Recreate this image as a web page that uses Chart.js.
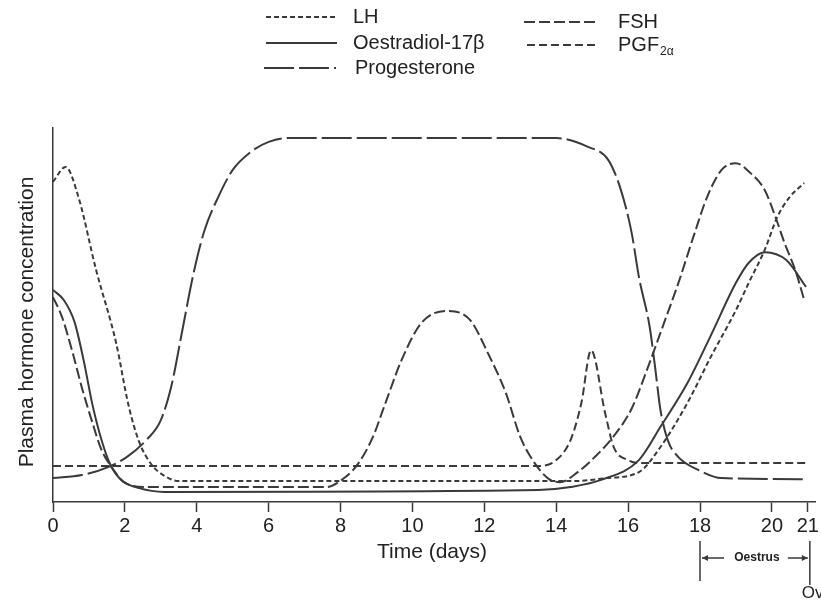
<!DOCTYPE html>
<html>
<head>
<meta charset="utf-8">
<title>Plasma hormone concentrations over the oestrous cycle</title>
<script src="https://cdn.jsdelivr.net/npm/chart.js@4.4.1/dist/chart.umd.min.js"></script>
<style>
  html, body { margin: 0; padding: 0; background: #fff; }
  #wrap { width: 821px; height: 601px; }
</style>
</head>
<body>
<div id="wrap"><canvas id="hormoneChart" width="821" height="601"></canvas></div>
<script>
// Day of cycle and relative plasma level (0-100, arbitrary units)

const lhDays  = [0, 0.35, 0.7, 1.2, 1.75, 2.1, 2.4, 2.75, 3.1, 3.5, 14.5, 15.4, 16.3, 16.9, 17.65, 18.3, 19.0, 19.35, 19.8, 20.15, 20.5, 20.9];
const lhLevel = [85.6, 89.6, 81.8, 62.0, 42.8, 25.9, 16.0, 9.9, 7.0, 5.6, 5.6, 6.4, 8.0, 14.7, 26.5, 38.8, 51.3, 58.5, 67.4, 76.2, 81.6, 85.3];

const oestDays  = [0, 0.3, 0.6, 0.85, 1.1, 1.35, 1.6, 1.9, 2.4, 3.1, 13.5, 14.4, 15.25, 16.3, 16.9, 17.65, 18.3, 19.0, 19.35, 19.8, 20.4, 20.95];
const oestLevel = [56.7, 54.0, 48.1, 38.0, 25.9, 16.6, 9.9, 5.9, 3.7, 2.7, 3.2, 4.0, 5.9, 11.2, 20.1, 31.8, 44.5, 58.6, 63.9, 66.8, 64.7, 57.5];

const progDays  = [0, 0.8, 1.55, 2.05, 2.6, 3.0, 3.3, 3.6, 3.9, 4.2, 4.6, 5.0, 5.5, 6.0, 6.5, 14.0, 14.9, 15.45, 15.8, 16.1, 16.3, 16.6, 16.75, 16.9, 17.1, 17.4, 17.95, 18.6, 21];
const progLevel = [6.4, 7.2, 9.4, 12.0, 16.6, 21.9, 31.3, 46.0, 60.7, 72.2, 81.6, 88.8, 93.6, 96.3, 97.3, 97.3, 94.9, 91.4, 83.4, 71.9, 60.2, 46.8, 36.1, 24.6, 16.6, 12.0, 8.6, 6.4, 6.1];

const fshDays  = [0, 0.25, 0.55, 0.8, 1.1, 1.35, 1.65, 2.0, 2.6, 7.6, 8.1, 8.5, 8.9, 9.25, 9.7, 10.25, 10.95, 11.6, 12.1, 12.6, 13.0, 13.4, 13.8, 14.1, 14.6, 15.1, 15.6, 16.1, 16.55, 17.0, 17.4, 17.85, 18.2, 18.6, 19.0, 19.4, 19.8, 20.1, 20.35, 20.65, 20.9];
const fshLevel = [54.8, 49.5, 39.8, 30.7, 21.1, 13.9, 9.1, 5.1, 4.0, 4.0, 6.4, 10.4, 17.4, 26.5, 38.0, 47.9, 51.1, 48.7, 39.8, 29.1, 17.4, 10.4, 6.1, 5.3, 8.0, 12.3, 17.6, 25.0, 36.0, 47.9, 58.6, 71.9, 81.6, 88.8, 90.6, 88.0, 83.4, 76.2, 69.3, 62.0, 54.0];

const pgfDays  = [0, 13.5, 14.0, 14.4, 14.7, 14.97, 15.36, 15.6, 16.0, 16.35, 21];
const pgfLevel = [9.6, 9.6, 11.2, 16.6, 26.5, 40.6, 23.8, 14.7, 11.2, 10.4, 10.4];

const dayTicks = [0, 2, 4, 6, 8, 10, 12, 14, 16, 18, 20, 21];

const ink = '#3a3a3a';
const textFont = "'Liberation Sans', Arial, sans-serif";

function toPoints(days, levels) {
    return days.map((d, i) => ({ x: d, y: levels[i] }));
}

function hormoneLine(label, days, levels, dash) {
    return {
        label: label,
        data: toPoints(days, levels),
        borderColor: ink,
        borderWidth: 2,
        borderDash: dash,
        pointRadius: 0,
        fill: false,
        cubicInterpolationMode: 'monotone'
    };
}

// legend, axis titles and the oestrus marker are drawn by hand
const figureText = {
    id: 'figureText',
    afterDraw(chart) {
        const ctx = chart.ctx;
        const xs = chart.scales.x;
        const sets = chart.data.datasets;
        ctx.save();
        ctx.fillStyle = '#222';
        ctx.strokeStyle = ink;

        // y title
        ctx.save();
        ctx.translate(27, 322);
        ctx.rotate(-Math.PI / 2);
        ctx.font = '21px ' + textFont;
        ctx.textAlign = 'center';
        ctx.textBaseline = 'middle';
        ctx.fillText('Plasma hormone concentration', 0, 0);
        ctx.restore();

        // x title
        ctx.font = '21px ' + textFont;
        ctx.textAlign = 'center';
        ctx.textBaseline = 'middle';
        ctx.fillText('Time (days)', 432, 552);

        // legend
        const rows = [
            { i: 0, x0: 266, x1: 337, y: 17, tx: 353 },
            { i: 1, x0: 266, x1: 337, y: 43, tx: 353 },
            { i: 2, x0: 264, x1: 336, y: 68, tx: 355 },
            { i: 3, x0: 524, x1: 596, y: 22, tx: 618 },
            { i: 4, x0: 527, x1: 596, y: 45, tx: 618 }
        ];
        rows.forEach(r => {
            const ds = sets[r.i];
            ctx.beginPath();
            ctx.lineWidth = 2;
            ctx.setLineDash(ds.borderDash || []);
            ctx.moveTo(r.x0, r.y);
            ctx.lineTo(r.x1, r.y);
            ctx.stroke();
            ctx.setLineDash([]);
            ctx.font = '20px ' + textFont;
            ctx.textAlign = 'left';
            ctx.textBaseline = 'middle';
            if (ds.label === 'PGF2α') {
                ctx.fillText('PGF', r.tx, r.y);
                const w = ctx.measureText('PGF').width;
                ctx.font = '12px ' + textFont;
                ctx.fillText('2α', r.tx + w + 1, r.y + 7);
            } else {
                ctx.fillText(ds.label, r.tx, r.y);
            }
        });

        // oestrus bracket and ovulation mark
        const x18 = xs.getPixelForValue(18);
        const x21 = xs.getPixelForValue(21) + 2;
        ctx.lineWidth = 1.5;
        ctx.beginPath();
        ctx.moveTo(x18, 541); ctx.lineTo(x18, 581);
        ctx.moveTo(x21, 541); ctx.lineTo(x21, 585);
        ctx.moveTo(x18 + 2, 558); ctx.lineTo(x18 + 24, 558);
        ctx.moveTo(x21 - 22, 558); ctx.lineTo(x21 - 2, 558);
        ctx.stroke();
        ctx.beginPath();
        ctx.moveTo(x18 + 2, 558); ctx.lineTo(x18 + 8, 555); ctx.lineTo(x18 + 8, 561); ctx.closePath();
        ctx.moveTo(x21 - 2, 558); ctx.lineTo(x21 - 8, 555); ctx.lineTo(x21 - 8, 561); ctx.closePath();
        ctx.fillStyle = ink;
        ctx.fill();
        ctx.fillStyle = '#222';
        ctx.font = 'bold 12px ' + textFont;
        ctx.textAlign = 'center';
        ctx.fillText('Oestrus', (x18 + x21) / 2 + 2, 558);
        ctx.font = '17px ' + textFont;
        ctx.textAlign = 'left';
        ctx.fillText('Ovulation', x21 - 8, 593);
        ctx.restore();
    }
};

const chart = new Chart(document.getElementById('hormoneChart'), {
    type: 'line',
    data: {
        datasets: [
            hormoneLine('LH', lhDays, lhLevel, [5, 3]),
            hormoneLine('Oestradiol-17β', oestDays, oestLevel, []),
            hormoneLine('Progesterone', progDays, progLevel, [30, 5]),
            hormoneLine('FSH', fshDays, fshLevel, [11, 4]),
            hormoneLine('PGF2α', pgfDays, pgfLevel, [8, 4])
        ]
    },
    options: {
        responsive: false,
        animation: false,
        layout: { padding: { top: 128, right: 4, left: 0, bottom: 0 } },
        plugins: {
            legend: { display: false },
            tooltip: { enabled: false }
        },
        scales: {
            x: {
                type: 'linear',
                min: 0,
                max: 21.2,
                afterBuildTicks: s => { s.ticks = dayTicks.map(v => ({ value: v })); },
                afterFit: s => { s.height = 99; },
                grid: { drawOnChartArea: false, drawTicks: true, tickLength: 10, tickColor: ink, tickWidth: 1.5 },
                border: { color: ink, width: 1.5 },
                ticks: {
                    color: '#222',
                    autoSkip: false,
                    maxRotation: 0,
                    padding: 2,
                    font: { family: textFont, size: 20 }
                }
            },
            y: {
                min: 0,
                max: 100,
                afterFit: s => { s.width = 53; },
                grid: { display: false },
                border: { color: ink, width: 1.5 },
                ticks: { display: false }
            }
        }
    },
    plugins: [figureText]
});
</script>
</body>
</html>
